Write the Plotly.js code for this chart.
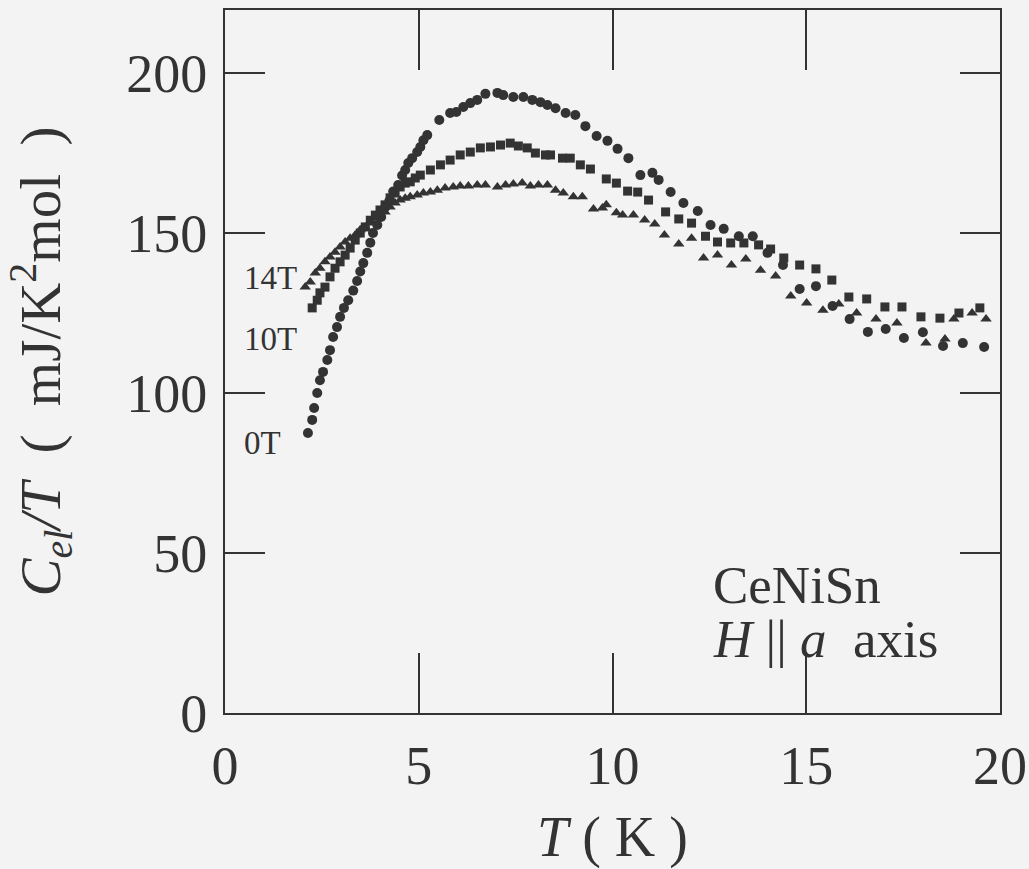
<!DOCTYPE html>
<html>
<head>
<meta charset="utf-8">
<script src="https://cdn.plot.ly/plotly-3.0.1.min.js"></script>
<style>
  html, body { margin: 0; padding: 0; background: #f3f3f3; }
  #chart { width: 1029px; height: 869px; }
</style>
</head>
<body>
<div id="chart"></div>
<script>
// 0 T (circles)
const T0 = [2.14,2.25,2.30,2.38,2.45,2.53,2.64,2.71,2.79,2.89,2.97,3.07,3.18,3.31,3.41,3.49,3.57,3.67,3.75,3.82,3.93,4.03,4.13,4.24,4.34,4.47,4.57,4.65,4.73,4.83,4.96,5.04,5.12,5.22,5.53,5.81,5.97,6.15,6.33,6.51,6.72,7.03,7.18,7.44,7.70,7.93,8.14,8.32,8.53,8.79,9.04,9.30,9.59,9.87,10.13,10.41,10.72,11.03,11.19,11.50,11.83,12.20,12.53,12.87,13.26,13.62,14.00,14.40,14.83,15.25,15.68,16.12,16.59,17.05,17.52,18.01,18.53,19.04,19.59];
const C0 = [87.5,91.6,95.3,100,104,106.6,110.3,113.4,117.5,120.6,123.8,126.6,129,132,135,138,140.6,143.8,147,150,152.5,155,158,160,163,165,168,169.7,171.9,173.4,175.3,176.9,179,180.6,185.3,187.5,187.8,189.4,190.6,191.6,193.5,193.8,193.1,192.5,192.5,191.6,190.9,190,189,187.5,186.9,183.4,180.3,178.8,176.3,173.4,168.1,168.8,166.6,162.8,159.4,156.9,152.5,151.3,149,149,143.8,140,132.5,133.4,127.2,123.1,119.1,120,117.2,119,114.7,115.6,114.4];

// 10 T (squares)
const T10 = [2.25,2.38,2.45,2.58,2.71,2.84,2.97,3.10,3.23,3.36,3.49,3.62,3.75,3.88,4.00,4.13,4.26,4.39,4.52,4.65,4.78,4.91,5.04,5.30,5.56,5.81,6.07,6.33,6.59,6.85,7.11,7.36,7.57,7.80,8.01,8.27,8.40,8.71,8.91,9.17,9.43,9.84,10.10,10.39,10.65,10.93,11.37,11.71,12.04,12.40,12.71,13.05,13.39,13.77,14.08,14.42,14.83,15.25,15.66,16.10,16.56,17.03,17.47,17.96,18.45,18.94,19.48];
const C10 = [126.6,129,131.3,133.1,136.3,139,141,143.1,145.3,147.8,150,151.9,154,155.6,157.2,158.8,161,162.5,164.4,165.6,166,167.2,168.1,169.7,171.3,172.8,174.4,175.3,176.6,176.9,177.5,178.1,177.2,176.6,175,174.4,174.4,173.4,173.4,171.3,170,166.9,165.6,163.1,162.8,160.3,156.6,154.4,153.1,149,147.2,146.9,146.9,146.3,145,142.2,140,138.8,135.3,130,129.4,126.9,126.9,123.8,123.4,125,126.6];

// 14 T (triangles)
const T14 = [2.07,2.20,2.33,2.45,2.58,2.71,2.84,2.97,3.10,3.23,3.36,3.49,3.62,3.75,3.88,4.00,4.13,4.26,4.39,4.52,4.65,4.78,4.96,5.12,5.30,5.48,5.68,5.89,6.07,6.28,6.51,6.72,7.03,7.24,7.44,7.67,7.88,8.09,8.32,8.53,8.73,8.99,9.22,9.51,9.74,9.84,10.10,10.26,10.54,10.83,11.09,11.34,11.71,12.04,12.35,12.71,13.07,13.44,13.82,14.21,14.60,15.01,15.43,15.84,16.30,16.80,17.34,18.09,18.58,18.81,19.28,19.64];
const C14 = [133.1,134.7,137.5,139,141,142.5,144,145.6,147.2,148.4,149.4,151,151.9,153.1,154.7,155.6,156.6,158.1,159.4,160.3,160.9,161.3,161.9,162.5,162.8,163.4,164.1,164.4,164.7,164.7,165,165,164.4,165,165.3,165.6,164.7,165,165,163.4,162.5,161.3,161.3,157.5,157.8,158.8,156.3,155.6,155.6,154.1,152.8,149.4,146.6,148.4,142.2,143.1,140,141.9,138.4,136.6,130.3,128.1,125.9,127.8,125,123.1,121.9,115.6,116.9,123.1,125,123.1];

const xTicks = [0,5,10,15,20];
const yTicks = [0,50,100,150,200];
const fieldLabels = ['14T','10T','0T'];
const fieldLabelY = [136,117,84.5];

const ink = '#333333';
const serif = 'Liberation Serif, Times New Roman, serif';

function series(x, y, symbol, size) {
  return {x: x, y: y, type: 'scatter', mode: 'markers', showlegend: false,
          marker: {symbol: symbol, size: size, color: ink, line: {width: 0}}};
}

const data = [
  series(T0, C0, 'circle', 10),
  series(T10, C10, 'square', 9),
  series(T14, C14, 'triangle-up', 10)
];

const annotations = fieldLabels.map((t, i) => ({
  text: t, xref: 'paper', yref: 'y', x: 0.022, y: fieldLabelY[i],
  xanchor: 'left', yanchor: 'middle', showarrow: false,
  font: {family: serif, size: 33, color: ink}
}));
annotations.push({
  text: 'CeNiSn', xref: 'x', yref: 'y', x: 12.55, y: 40,
  xanchor: 'left', yanchor: 'middle', showarrow: false,
  font: {family: serif, size: 53, color: ink}
});
annotations.push({
  text: '<i>H</i> || <i>a</i>\u00a0 axis', xref: 'x', yref: 'y', x: 12.55, y: 23,
  xanchor: 'left', yanchor: 'middle', showarrow: false,
  font: {family: serif, size: 53, color: ink}
});

const axisCommon = {
  ticks: 'inside', tickwidth: 2, tickcolor: ink,
  showline: true, linewidth: 2, linecolor: ink, mirror: 'ticks',
  showgrid: false, zeroline: false,
  tickfont: {family: serif, size: 54, color: ink}
};

const layout = {
  width: 1029, height: 869,
  margin: {l: 225, r: 29, t: 10, b: 156},
  paper_bgcolor: '#f3f3f3', plot_bgcolor: '#f3f3f3',
  xaxis: Object.assign({}, axisCommon, {
    range: [0, 20], tickvals: xTicks, ticktext: xTicks.map(String), ticklen: 60,
    ticklabelstandoff: 4,
    title: {text: '<i>T</i> ( K )', font: {family: serif, size: 56, color: ink}, standoff: 28},
    automargin: false
  }),
  yaxis: Object.assign({}, axisCommon, {
    range: [0, 219.7], tickvals: yTicks, ticktext: yTicks.map(String), ticklen: 40,
    ticklabelstandoff: 5,
    title: {text: '<i>C</i><sub><i>el</i></sub><i>/T</i>\u00a0 (\u00a0 mJ/K<sup>2</sup>mol\u00a0 )', font: {family: serif, size: 57, color: ink}, standoff: 48},
    automargin: false
  }),
  annotations: annotations
};

Plotly.newPlot('chart', data, layout, {displayModeBar: false, staticPlot: true});
</script>
</body>
</html>
